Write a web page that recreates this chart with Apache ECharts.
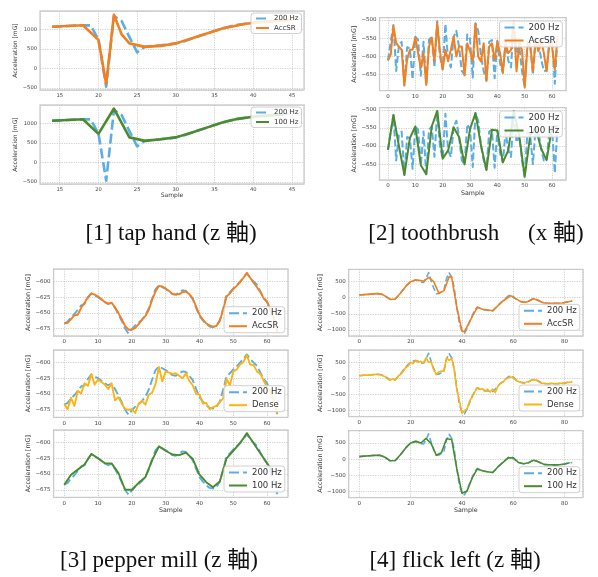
<!DOCTYPE html>
<html><head><meta charset="utf-8">
<script src="https://cdn.jsdelivr.net/npm/echarts@6/dist/echarts.min.js"></script>
<style>html,body{margin:0;padding:0;background:#fff}#c{width:598px;height:577px}</style>
</head><body><div id="c"></div>
<script>
// ---------- DATA ----------
// [1] tap hand (z axis), samples 14..45
const tapStart = 14;
const tap200 = [1068,1075,1085,1095,1105,1100,740,-470,1340,1210,800,410,555,575,590,610,640,690,760,830,890,960,1020,1075,1115,1145,1170,1190,1205,1220,1232,1245];
const tapAccX = [14,18,20,21,22,23,24,26,28,30,33,36,39,42,45];
const tapAccY = [1068,1105,730,-400,1375,870,640,550,575,640,830,1020,1145,1205,1245];
const tap100 = [1068,1085,1105,730,1380,640,550,590,640,760,890,1020,1115,1170,1205,1232];

// [2] toothbrush (x axis), samples 0..62
const tooth200 = [-611,-560,-514,-640,-570,-560,-680,-575,-578,-663,
  -546,-555,-653,-560,-678,-555,-546,-630,-503,-600,
  -635,-511,-612,-630,-548,-530,-575,-640,-651,-540,
  -553,-658,-509,-530,-598,-640,-666,-560,-555,-660,
  -557,-620,-645,-560,-612,-630,-503,-590,-571,-640,
  -685,-560,-571,-650,-550,-560,-607,-640,-639,-560,
  -548,-675,-544];
const toothAcc = [-611,-595,-517,-564,-573,-582,-678,-609,-582,-582,
  -548,-591,-631,-591,-678,-573,-548,-613,-508,-586,
  -636,-582,-613,-582,-546,-600,-573,-573,-652,-564,
  -586,-613,-511,-601,-614,-564,-667,-573,-564,-610,
  -559,-591,-645,-564,-591,-582,-504,-641,-564,-582,
  -685,-573,-564,-641,-555,-586,-555,-591,-641,-564,
  -573,-636,-546];
const tooth100 = [-610,-514,-600,-680,-578,-546,-653,-678,-546,-503,-635,-612,-548,-575,-651,-553,-509,-598,-666,-555,-557,-645,-612,-503,-571,-685,-571,-550,-607,-639,-548,-544];

// [3] pepper mill (z axis), samples 0..63
const pep200 = [-667,-664,-657,-652,-645,-638,-636,-626,-619,-622,
  -625,-629,-633,-636,-634,-642,-652,-663,-675,-683,
  -676,-670,-666,-661,-654,-643,-627,-612,-606,-609,
  -612,-616,-620,-621,-617,-614,-615,-621,-628,-642,
  -655,-662,-668,-672,-673,-671,-662,-643,-622,-617,
  -611,-606,-600,-594,-587,-594,-600,-605,-616,-626,
  -633,-646,-660,-682];
const pepAcc = [-667,-666,-660,-654,-653,-642,-634,-625,-619,-621,
  -624,-628,-633,-635,-634,-641,-650,-660,-671,-677,
  -677,-674,-668,-661,-655,-645,-629,-616,-607,-608,
  -611,-615,-620,-621,-620,-617,-616,-620,-627,-640,
  -653,-661,-667,-670,-672,-671,-663,-645,-624,-619,
  -612,-607,-601,-594,-586,-594,-602,-609,-617,-627,
  -632,-645,-658,-679];
const pepDense = [-666,-674,-656,-669,-645,-649,-633,-637,-618,-635,
  -627,-631,-635,-642,-633,-660,-655,-665,-674,-675,
  -674,-680,-665,-661,-667,-651,-648,-634,-607,-630,
  -614,-616,-618,-617,-621,-625,-617,-629,-636,-650,
  -651,-665,-664,-674,-671,-669,-663,-657,-626,-636,
  -614,-611,-603,-599,-588,-603,-604,-614,-618,-629,
  -639,-645,-663,-681];
const pep100 = [-667,-651,-643,-635,-618,-625,-633,-633,-648,-675,-675,-664,-655,-628,-606,-613,-619,-620,-616,-626,-651,-663,-671,-662,-625,-613,-601,-585,-601,-617,-633,-648];

// [4] flick left (z axis), samples 0..83
const flick200 = [80,90,95,100,105,112,118,124,118,100,
  60,10,-50,-55,-40,40,135,240,340,430,
  500,535,550,530,480,470,600,780,520,300,
  120,130,180,250,600,770,640,300,-300,-800,
  -1050,-1100,-950,-750,-560,-380,-290,-330,-360,-380,
  -390,-400,-410,-330,-240,-160,-100,-20,50,90,
  40,-40,-100,-125,-140,-145,-110,-60,-30,-50,
  -90,-140,-165,-170,-172,-175,-176,-175,-172,-165,
  -150,-130,-115,-105];
const flickAccX = [0,3,7,9,12,14,16,18,20,22,24,25,27,29,31,33,35,36,38,40,41,44,46,48,52,56,59,60,63,65,68,72,76,79,83];
const flickAccY = [83,103,124,103,-52,-41,135,341,497,549,528,507,631,497,135,217,652,631,-300,-1035,-1055,-590,-300,-362,-404,-104,62,10,-124,-145,-31,-166,-176,-166,-103];
const flickDense = [80,95,100,105,100,115,120,130,110,90,
  50,-20,-60,-10,-50,60,120,200,330,380,
  500,460,560,500,530,470,640,500,510,260,
  120,200,230,220,640,560,620,250,-350,-700,
  -1080,-1000,-950,-700,-580,-420,-300,-340,-320,-400,
  -340,-420,-330,-440,-250,-150,-120,-20,10,40,
  30,-60,-100,-120,-130,-120,-100,-70,-40,-60,
  -110,-150,-150,-170,-160,-150,-170,-160,-150,-150,
  -140,-130,-120,-110];
const flick100 = [80,95,105,118,120,60,-50,-40,135,340,500,550,500,640,480,120,200,630,610,-300,-1050,-980,-580,-300,-360,-390,-410,-240,-100,40,40,-100,-140,-110,-30,-90,-160,-170,-175,-170,-150,-110];

const captions = ['[1] tap hand (z 軸)', '[2] toothbrush     (x 軸)', '[3] pepper mill (z 軸)', '[4] flick left (z 軸)'];

// ---------- BUILD ----------
const C200 = '#5aade6', CACC = '#f47f1c', C100 = '#4b8b2b', CDENSE = '#ffb310';
function seq(start, step, vals) { return vals.map((v, i) => [start + i * step, v]); }
function pairs(xs, ys) { return xs.map((x, i) => [x, ys[i]]); }

const P = [
  {g:[40,11,264,79], x:[12.45,46.55,5], y:[-555,1470,500], lw:2.6, dash:[10,4], fs:5.2, nfs:6, lfs:7, leg:[251,13], iw:13, ig:2.5, ng:13.5, sample:false,
   s:[['200 Hz', seq(tapStart,1,tap200), C200, true], ['AccSR', pairs(tapAccX,tapAccY), CACC, false]]},
  {g:[40,105,264,79], x:[12.45,46.55,5], y:[-555,1470,500], lw:2.6, dash:[10,4], fs:5.2, nfs:6, lfs:7, leg:[251,107], iw:13, ig:2.5, ng:13.5, sample:true,
   s:[['200 Hz', seq(tapStart,1,tap200), C200, true], ['100 Hz', seq(tapStart,2,tap100), C100, false]]},
  {g:[379.5,17.7,186.5,73], x:[-3.1,65.1,10], y:[-694,-494,50], lw:2, dash:[7,3], fs:5.5, nfs:6.3, lfs:8.8, leg:[499.5,21], iw:19, ig:4, ng:16, sample:false,
   s:[['200 Hz', seq(0,1,tooth200), C200, true], ['AccSR', seq(0,1,toothAcc), CACC, false]]},
  {g:[379.5,107.7,186.5,72.3], x:[-3.1,65.1,10], y:[-694,-494,50], lw:2, dash:[7,3], fs:5.5, nfs:6.3, lfs:8.8, leg:[499.5,111], iw:19, ig:4, ng:16, sample:true,
   s:[['200 Hz', seq(0,1,tooth200), C200, true], ['100 Hz', seq(0,2,tooth100), C100, false]]},
  {g:[53.6,269,234.3,67], x:[-3.15,66.15,10], y:[-687,-580,25], lw:1.9, dash:[8,3.5], fs:5.5, nfs:6.3, lfs:8.5, leg:[224,306.7], iw:18, ig:4, ng:13.5, sample:false,
   s:[['200 Hz', seq(0,1,pep200), C200, true], ['AccSR', seq(0,1,pepAcc), CACC, false]]},
  {g:[53.6,350,234.3,67.3], x:[-3.15,66.15,10], y:[-687,-580,25], lw:1.9, dash:[8,3.5], fs:5.5, nfs:6.3, lfs:8.5, leg:[224,385.7], iw:18, ig:4, ng:13.5, sample:false,
   s:[['200 Hz', seq(0,1,pep200), C200, true], ['Dense', seq(0,1,pepDense), CDENSE, false]]},
  {g:[53.6,430,234.3,67.3], x:[-3.15,66.15,10], y:[-687,-580,25], lw:1.9, dash:[8,3.5], fs:5.5, nfs:6.3, lfs:8.5, leg:[224,466], iw:18, ig:4, ng:13.5, sample:true,
   s:[['200 Hz', seq(0,1,pep200), C200, true], ['100 Hz', seq(0,2,pep100), C100, false]]},
  {g:[348.7,269.3,234.2,66.7], x:[-4.15,87.15,20], y:[-1190,880,500], lw:1.6, dash:[6,3], fs:5.5, nfs:6.3, lfs:8.5, leg:[519,304.3], iw:18, ig:4, ng:17.5, sample:false,
   s:[['200 Hz', seq(0,1,flick200), C200, true], ['AccSR', pairs(flickAccX,flickAccY), CACC, false]]},
  {g:[348.7,350,234.2,66.7], x:[-4.15,87.15,20], y:[-1190,880,500], lw:1.6, dash:[6,3], fs:5.5, nfs:6.3, lfs:8.5, leg:[519,385], iw:18, ig:4, ng:17.5, sample:false,
   s:[['200 Hz', seq(0,1,flick200), C200, true], ['Dense', seq(0,1,flickDense), CDENSE, false]]},
  {g:[348.7,430.7,234.2,67], x:[-4.15,87.15,20], y:[-1190,880,500], lw:1.6, dash:[6,3], fs:5.5, nfs:6.3, lfs:8.5, leg:[519,466.7], iw:18, ig:4, ng:17.5, sample:true,
   s:[['200 Hz', seq(0,1,flick200), C200, true], ['100 Hz', seq(0,2,flick100), C100, false]]}
];

const fmt = v => (v < 0 ? '\u2212' + Math.abs(v) : String(v));
const grid = [], xAxis = [], yAxis = [], series = [], legend = [];
const splitStyle = {show:true, lineStyle:{color:'#c4c4c4', width:0.8, type:[1.2,1.2]}};
P.forEach((p, i) => {
  grid.push({left:p.g[0], top:p.g[1], width:p.g[2], height:p.g[3], show:true, borderColor:'#cfcfcf', borderWidth:1.3, backgroundColor:'#fff', containLabel:false});
  xAxis.push({type:'value', gridIndex:i, min:p.x[0], max:p.x[1], minInterval:p.x[2], maxInterval:p.x[2],
    axisLine:{show:false}, axisTick:{show:false}, splitLine:splitStyle,
    axisLabel:{fontSize:p.fs, color:'#444', margin:3, showMinLabel:false, showMaxLabel:false, fontFamily:'DejaVu Sans', formatter:fmt},
    name:p.sample ? 'Sample' : '', nameLocation:'middle', nameGap:8, nameTextStyle:{fontSize:p.nfs, color:'#333', fontFamily:'DejaVu Sans'}});
  yAxis.push({type:'value', gridIndex:i, min:p.y[0], max:p.y[1], minInterval:p.y[2], maxInterval:p.y[2],
    axisLine:{show:false}, axisTick:{show:false}, splitLine:splitStyle,
    axisLabel:{fontSize:p.fs, color:'#444', margin:3, showMinLabel:false, showMaxLabel:false, fontFamily:'DejaVu Sans', formatter:fmt},
    name:'Acceleration [mG]', nameLocation:'middle', nameGap:p.ng, nameRotate:90, nameTextStyle:{fontSize:p.nfs, color:'#333', fontFamily:'DejaVu Sans'}});
  p.s.forEach(([name, data, color, dashed]) => {
    series.push({type:'line', name, xAxisIndex:i, yAxisIndex:i, data, showSymbol:false, symbol:'none', animation:false, z:dashed ? 2 : 3,
      lineStyle:{color, width:p.lw, type:dashed ? p.dash : 'solid', cap:'butt', join:'round'}, itemStyle:{color}});
  });
  legend.push({data:p.s.map(s => s[0]), orient:'vertical', left:p.leg[0], top:p.leg[1], itemWidth:p.iw, itemHeight:p.lfs, itemGap:p.ig,
    itemStyle:{opacity:0, borderWidth:0},
    textStyle:{fontSize:p.lfs, color:'#333', fontFamily:'DejaVu Sans'}, backgroundColor:'rgba(255,255,255,0.85)', borderColor:'#d0d0d0', borderWidth:1, borderRadius:3, padding:[2,3,2,4], selectedMode:false});
});

const capPos = [[171,234],[476,234],[159,561],[455,561]];
const graphic = captions.map((t, i) => ({type:'text', x:capPos[i][0], y:capPos[i][1], style:{text:t, font:"23px 'Liberation Serif', 'Noto Sans CJK JP', serif", fill:'#111', textAlign:'center', textVerticalAlign:'middle'}}));

const chart = echarts.init(document.getElementById('c'), null, {renderer:'canvas'});
chart.setOption({animation:false, backgroundColor:'#fff', grid, xAxis, yAxis, series, legend, graphic});
</script></body></html>
